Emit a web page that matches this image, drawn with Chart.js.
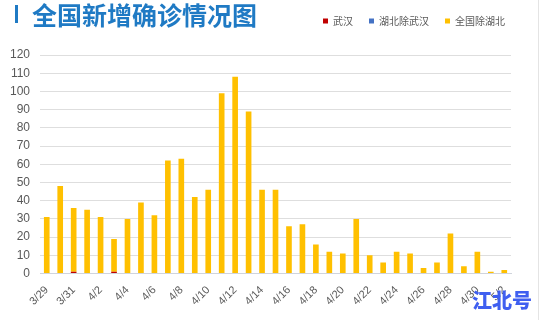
<!DOCTYPE html>
<html><head><meta charset="utf-8">
<script src="https://cdn.jsdelivr.net/npm/chart.js@4/dist/chart.umd.min.js"></script>
<style>
html,body{margin:0;padding:0;background:#fff;}
#wrap{position:relative;width:540px;height:320px;overflow:hidden;background:#fff;}
#title{position:absolute;left:32px;top:0px;font-family:"Noto Sans CJK SC",sans-serif;font-weight:700;font-size:25px;color:#1f7ac4;line-height:29px;white-space:nowrap;}
#bar{position:absolute;left:15px;top:5px;width:3px;height:18px;background:#1f7ac4;}
#mark{position:absolute;left:472px;top:288px;font-family:"Noto Sans CJK SC",sans-serif;font-weight:900;font-size:20px;color:#3f5ff0;line-height:24px;}
#edge{position:absolute;left:538px;top:0;width:1px;height:320px;background:#e4e4e4;}
canvas{position:absolute;left:0;top:0;}
</style></head><body>
<div id="wrap">
<canvas id="c" width="540" height="320"></canvas>
<div id="bar"></div>
<div id="title">全国新增确诊情况图</div>
<div id="mark">江北号</div>
<div id="edge"></div>
</div>
<script>
const categories = ["3/29","3/30","3/31","4/1","4/2","4/3","4/4","4/5","4/6","4/7","4/8","4/9","4/10","4/11","4/12","4/13","4/14","4/15","4/16","4/17","4/18","4/19","4/20","4/21","4/22","4/23","4/24","4/25","4/26","4/27","4/28","4/29","4/30","5/1","5/2"];
const wuhan = [0,0,1,0,0,1,0,0,0,0,0,0,0,0,0,0,0,0,0,0,0,0,0,0,0,0,0,0,0,0,0,0,0,0,0];
const hubeiExWuhan = [0,0,0,0,0,0,0,0,0,0,0,0,0,0,0,0,0,0,0,0,0,0,0,0,0,0,0,0,0,0,0,0,0,0,0];
const nationalExHubei = [31,48,35,35,31,18,30,39,32,62,63,42,46,99,108,89,46,46,26,27,16,12,11,30,10,6,12,11,3,6,22,4,12,1,2];
const seriesNames = ["武汉","湖北除武汉","全国除湖北"];
const yTicks = [0,10,20,30,40,50,60,70,80,90,100,110,120];

const legendPad = {
  id:'legendPad',
  beforeInit(chart){
    const orig = chart.legend.fit;
    chart.legend.fit = function(){ orig.call(this); this.height += 19; };
  },
  afterLayout(chart){
    chart.legend.left += 10; chart.legend.right += 10;
    chart.legend.adjustHitBoxes && chart.legend.adjustHitBoxes();
  }
};

new Chart(document.getElementById('c'), {
  type:'bar',
  data:{
    labels:categories,
    datasets:[
      {label:seriesNames[0], data:wuhan, backgroundColor:'#c00000'},
      {label:seriesNames[1], data:hubeiExWuhan, backgroundColor:'#4472c4'},
      {label:seriesNames[2], data:nationalExHubei, backgroundColor:'#ffc000'}
    ]
  },
  options:{
    responsive:false,
    animation:false,
    layout:{padding:{left:0,right:29,top:0,bottom:10}},
    datasets:{bar:{barPercentage:0.42,categoryPercentage:1}},
    plugins:{
      legend:{
        position:'top', align:'end',
        labels:{boxWidth:5,boxHeight:5,padding:16,color:'#595959',
          font:{family:'"Noto Sans CJK SC", sans-serif',size:10}}
      },
      tooltip:{enabled:false}
    },
    scales:{
      x:{
        stacked:true,
        grid:{display:false},
        border:{display:true,color:'#d0d4dc'},
        ticks:{autoSkip:false,minRotation:45,maxRotation:45,color:'#595959',padding:2,
          font:{family:'Liberation Sans, Arial, sans-serif',size:11},
          callback:(v,i)=> i%2===0 ? categories[i] : ''}
      },
      y:{
        stacked:true,
        min:0,max:120,
        afterBuildTicks:(s)=>{ s.ticks = yTicks.map(v=>({value:v})); },
        grid:{color:'#dedede',drawTicks:false},
        border:{display:false},
        ticks:{color:'#595959',padding:10,font:{family:'Liberation Sans, Arial, sans-serif',size:12}}
      }
    }
  },
  plugins:[legendPad]
});
</script>
</body></html>
